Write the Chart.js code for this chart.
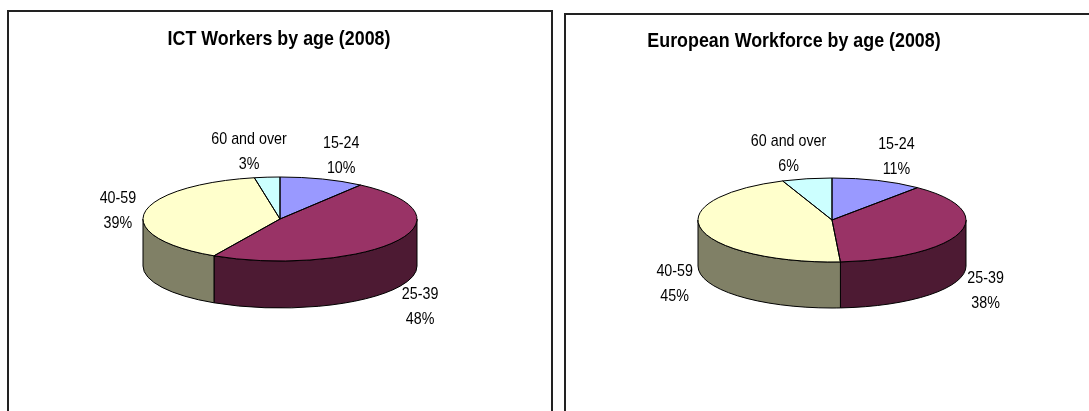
<!DOCTYPE html>
<html>
<head>
<meta charset="utf-8">
<script src="https://cdn.jsdelivr.net/npm/chart.js@4/dist/chart.umd.min.js"></script>
<style>
  html, body { margin:0; padding:0; background:#fff; }
  body { width:1089px; height:411px; position:relative; overflow:hidden; }
  .box { position:absolute; box-sizing:border-box; border:2px solid #222; width:546px; height:430px; background:#fff; }
  #boxL { left:7px; top:10px; }
  #boxR { left:564px; top:13px; }
  canvas { display:block; }
</style>
</head>
<body>
<div class="box" id="boxL"><canvas id="cL" width="542" height="400"></canvas></div>
<div class="box" id="boxR"><canvas id="cR" width="542" height="400"></canvas></div>
<script>
// ---- data ----
const categories = ['15-24', '25-39', '40-59', '60 and over'];
const ictValues = [10, 48, 39, 3];
const euValues = [11, 38, 45, 6];
const titleICT = 'ICT Workers by age (2008)';
const titleEU = 'European Workforce by age (2008)';
const topColors = ['#9999FF', '#993366', '#FFFFCC', '#CCFFFF'];
const sideColors = ['#4D4D80', '#4D1A33', '#808066', '#668080'];

const FONT = "'Liberation Sans', Arial, sans-serif";
const NARROW = 0.84; // horizontal condensing of the text

function condensedText(ctx, text, x, y, sx) {
  ctx.save();
  ctx.translate(x, y);
  ctx.scale(sx, 1);
  ctx.fillText(text, 0, 0);
  ctx.restore();
}

const pie3d = {
  id: 'pie3d',
  beforeDatasetsDraw(chart, args, o) {
    const ctx = chart.ctx;
    const arcs = chart.getDatasetMeta(0).data;
    arcs.forEach((a, i) => {
      const s = Math.max(a.startAngle, 0), e = Math.min(a.endAngle, Math.PI);
      if (e <= s) return;
      ctx.beginPath();
      ctx.ellipse(o.cx, o.cy, o.rx, o.ry, 0, s, e);
      ctx.lineTo(o.cx + o.rx * Math.cos(e), o.cy + o.ry * Math.sin(e) + o.depth);
      ctx.ellipse(o.cx, o.cy + o.depth, o.rx, o.ry, 0, e, s, true);
      ctx.closePath();
      ctx.fillStyle = sideColors[i];
      ctx.fill();
      ctx.lineWidth = 1;
      ctx.strokeStyle = '#000';
      ctx.stroke();
    });
    const a0 = arcs[0];
    ctx.save();
    ctx.translate(o.cx, o.cy);
    ctx.scale(o.rx / a0.outerRadius, o.ry / a0.outerRadius);
    ctx.translate(-a0.x, -a0.y);
  },
  afterDatasetsDraw(chart, args, o) {
    const ctx = chart.ctx;
    ctx.restore();
    const arcs = chart.getDatasetMeta(0).data;
    const vals = chart.data.datasets[0].data;
    ctx.lineWidth = 1;
    ctx.strokeStyle = '#000';
    arcs.forEach((a) => {
      ctx.beginPath();
      ctx.moveTo(o.cx, o.cy);
      ctx.lineTo(o.cx + o.rx * Math.cos(a.startAngle), o.cy + o.ry * Math.sin(a.startAngle));
      ctx.ellipse(o.cx, o.cy, o.rx, o.ry, 0, a.startAngle, a.endAngle);
      ctx.closePath();
      ctx.stroke();
    });
    // data labels
    ctx.fillStyle = '#000';
    ctx.textAlign = 'center';
    ctx.textBaseline = 'middle';
    ctx.font = '17px ' + FONT;
    arcs.forEach((a, i) => {
      const m = (a.startAngle + a.endAngle) / 2;
      const c = Math.cos(m), sn = Math.sin(m);
      const px = o.cx + o.rx * c;
      const py = o.cy + o.ry * sn + (sn > 0 ? o.depth : 0);
      const lx = px + (c >= 0 ? 1 : -1) * (27 - 9 * sn * sn);
      const ly = py + 28 * sn + 3;
      condensedText(ctx, chart.data.labels[i], lx, ly - 12.5, NARROW);
      condensedText(ctx, vals[i] + '%', lx, ly + 12.5, NARROW);
    });
  },
  afterDraw(chart, args, o) {
    const ctx = chart.ctx;
    ctx.fillStyle = '#000';
    ctx.textAlign = 'center';
    ctx.textBaseline = 'middle';
    ctx.font = 'bold 21px ' + FONT;
    condensedText(ctx, chart.options.plugins.title.text, o.titleX, o.titleY, 0.85);
  }
};

function makePie(id, title, values, geom) {
  return new Chart(document.getElementById(id), {
    type: 'pie',
    data: {
      labels: categories,
      datasets: [{ data: values, backgroundColor: topColors, borderWidth: 0, hoverOffset: 0 }]
    },
    options: {
      responsive: false,
      animation: false,
      events: [],
      plugins: {
        legend: { display: false },
        tooltip: { enabled: false },
        title: { display: false, text: title },
        pie3d: geom
      }
    },
    plugins: [pie3d]
  });
}

makePie('cL', titleICT, ictValues, { cx: 271, cy: 207, rx: 137, ry: 42, depth: 47, titleX: 270, titleY: 27 });
makePie('cR', titleEU, euValues, { cx: 266, cy: 205, rx: 134, ry: 42, depth: 46, titleX: 228, titleY: 26 });
</script>
</body>
</html>
